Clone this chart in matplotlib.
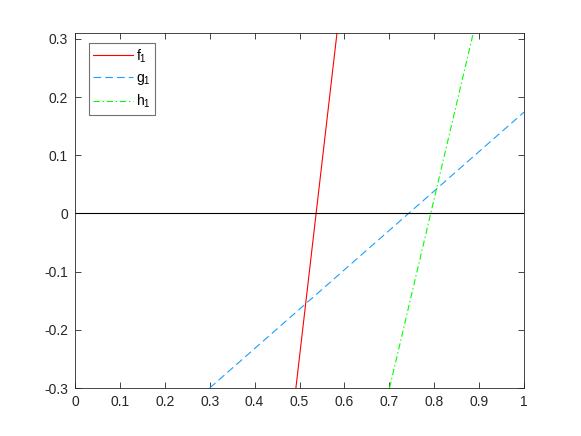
import numpy as np
import matplotlib.pyplot as plt

plt.rcParams['font.family'] = ['Liberation Sans', 'DejaVu Sans']
plt.rcParams['font.size'] = 10
plt.rcParams['mathtext.fontset'] = 'custom'
plt.rcParams['mathtext.rm'] = 'Liberation Sans'
plt.rcParams['lines.scale_dashes'] = False

# line end points
f_x = [0.492, 0.5835]
f_y = [-0.3, 0.31]
g_x = [0.3, 1.0]
g_y = [-0.3, 0.174]
h_x = [0.7005, 0.887]
h_y = [-0.3, 0.31]
zero_x = [0, 1]
zero_y = [0, 0]

xticks = np.round(np.arange(0, 1.01, 0.1), 1)
yticks = np.round(np.arange(-0.3, 0.31, 0.1), 1)

axcol = '#262626'

fig = plt.figure(figsize=(5.81, 4.36), dpi=100)
ax = fig.add_axes([75/581, 48/436, 449/581, 355/436])

ax.plot(f_x, f_y, color='#ff0000', lw=0.8, label=r'$\mathregular{f_1}$')
ax.plot(g_x, g_y, color='#1a9fff', lw=0.8, dashes=(5.5, 3), label=r'$\mathregular{g_1}$')
ax.plot(h_x, h_y, color='#00ff00', lw=0.8, dashes=(4.5, 2, 1, 2), label=r'$\mathregular{h_1}$')
ax.plot(zero_x, zero_y, color='black', lw=0.8)

ax.set_xlim(0, 1)
ax.set_ylim(-0.3, 0.31)
ax.set_xticks(xticks)
ax.set_yticks(yticks)
ax.set_xticklabels([f'{v:g}' for v in xticks])
ax.set_yticklabels([f'{v:g}' for v in yticks])
ax.tick_params(direction='in', length=4, width=0.6, colors=axcol,
               top=True, right=True, labelsize=10, pad=5)
for s in ax.spines.values():
    s.set_color(axcol)
    s.set_linewidth(0.6)

leg = ax.legend(loc='upper left', bbox_to_anchor=(14/449, 1 - 10/355),
                borderaxespad=0, fancybox=False, handlelength=2.9,
                handletextpad=0.2, labelspacing=0.45, borderpad=0.3)
leg.get_frame().set_edgecolor('0.3')
leg.get_frame().set_linewidth(0.8)

fig.savefig('out.png', dpi=100)
